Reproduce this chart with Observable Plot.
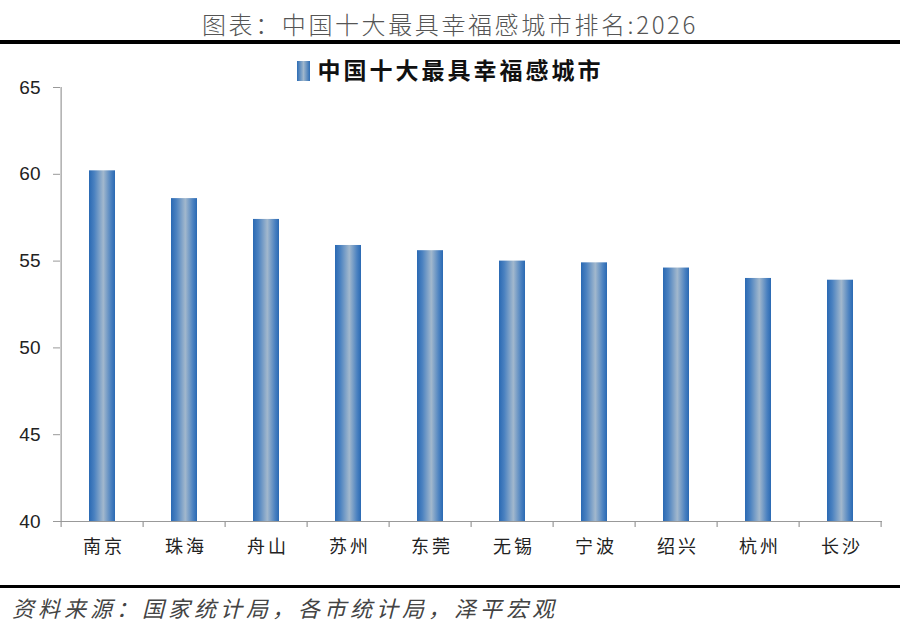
<!DOCTYPE html>
<html><head><meta charset="utf-8">
<script src="https://cdn.jsdelivr.net/npm/d3@7"></script>
<script src="https://cdn.jsdelivr.net/npm/@observablehq/plot@0.6"></script>
<style>
body{margin:0;background:#fff;width:900px;height:630px;overflow:hidden;font-family:"Noto Sans CJK SC",sans-serif;}
#wrap{position:relative;width:900px;height:630px;}
#title{position:absolute;top:8px;left:0;width:900px;text-align:center;font-size:24px;color:#555;letter-spacing:2.6px;line-height:32px;font-weight:300;}
#topline{position:absolute;top:40px;left:0;width:900px;height:4px;background:#000;}
#chart{position:absolute;top:50px;left:0;}
#legend{position:absolute;top:54px;left:0;width:900px;text-align:center;font-size:23px;font-weight:bold;color:#111;letter-spacing:3px;line-height:30px;}
#legend .sw{display:inline-block;width:13px;height:20px;background:linear-gradient(to right,#2d6db5,#a0b7cc,#2d6db5);vertical-align:-2px;margin-right:8px;}
#botline{position:absolute;top:585px;left:0;width:900px;height:3px;background:#000;}
#source{position:absolute;top:592px;left:12px;font-style:italic;font-size:22px;color:#444;letter-spacing:4px;line-height:30px;}
</style>
</head><body>
<div id="wrap">
  <div id="title">图表：中国十大最具幸福感城市排名:2026</div>
  <div id="topline"></div>
  <div id="chart"></div>
  <div id="legend"><span class="sw"></span>中国十大最具幸福感城市</div>
  <div id="botline"></div>
  <div id="source">资料来源：国家统计局，各市统计局，泽平宏观</div>
</div>
<script>
const cities = ["南京","珠海","舟山","苏州","东莞","无锡","宁波","绍兴","杭州","长沙"];
const scores = [60.2, 58.6, 57.4, 55.9, 55.6, 55.0, 54.9, 54.6, 54.0, 53.9];
const yTicks = [40, 45, 50, 55, 60, 65];
const data = cities.map((c, i) => ({city: c, score: scores[i]}));

const numFont = '"Liberation Sans Narrow","Liberation Sans",sans-serif';
const cjkFont = '"Noto Sans CJK SC",sans-serif';

const plot = Plot.plot({
  width: 900, height: 530,
  marginTop: 37, marginBottom: 59, marginLeft: 60, marginRight: 18,
  style: {background: "transparent", color: "#222", fontSize: "18px"},
  x: {domain: cities, paddingInner: 0.68, paddingOuter: 0.34, label: null},
  y: {domain: [40, 65], ticks: yTicks, label: null},
  marks: [
    Plot.barY(data, {x: "city", y1: 40, y2: "score", fill: "url(#barGrad)"}),
    Plot.axisY({ticks: yTicks, tickSize: 7, tickPadding: 13, stroke: "#999", fontSize: 19, fontFamily: numFont, fill: "#222", label: null}),
    Plot.axisX({tickSize: 0, tickPadding: 19, fontSize: 18, fontFamily: cjkFont, fill: "#222", label: null}),
    Plot.ruleY([40], {stroke: "#999", strokeWidth: 1.2})
  ]
});

const svg = d3.select(plot);
const grad = svg.insert("defs", ":first-child").append("linearGradient")
  .attr("id", "barGrad").attr("x1", 0).attr("x2", 1).attr("y1", 0).attr("y2", 0);
grad.append("stop").attr("offset", "0%").attr("stop-color", "#2a69b3");
grad.append("stop").attr("offset", "20%").attr("stop-color", "#4a81c0");
grad.append("stop").attr("offset", "55%").attr("stop-color", "#a2b8cd");
grad.append("stop").attr("offset", "85%").attr("stop-color", "#4a81c0");
grad.append("stop").attr("offset", "100%").attr("stop-color", "#2a69b3");

svg.selectAll('g[aria-label="x-axis tick label"] text').attr("letter-spacing", "3px").attr("dx", "1.5");

// axis lines and category separator ticks, placed via the plot's own scales
const xs = plot.scale("x"), ys = plot.scale("y");
const step = xs.step ?? (xs.bandwidth / (1 - 0.68));
const y0 = ys.apply(40), yTop = ys.apply(65);
const xLeft = xs.apply(cities[0]) - step * 0.34;
const g = svg.append("g").attr("stroke", "#999").attr("stroke-width", 1.2);
g.append("line").attr("x1", xLeft).attr("x2", xLeft).attr("y1", yTop).attr("y2", y0);
const bounds = cities.map(c => xs.apply(c) - step * 0.34);
bounds.push(bounds[bounds.length - 1] + step);
bounds.forEach(b => g.append("line").attr("x1", b).attr("x2", b).attr("y1", y0).attr("y2", y0 + 6));

document.getElementById("chart").appendChild(plot);
</script>
</body></html>
